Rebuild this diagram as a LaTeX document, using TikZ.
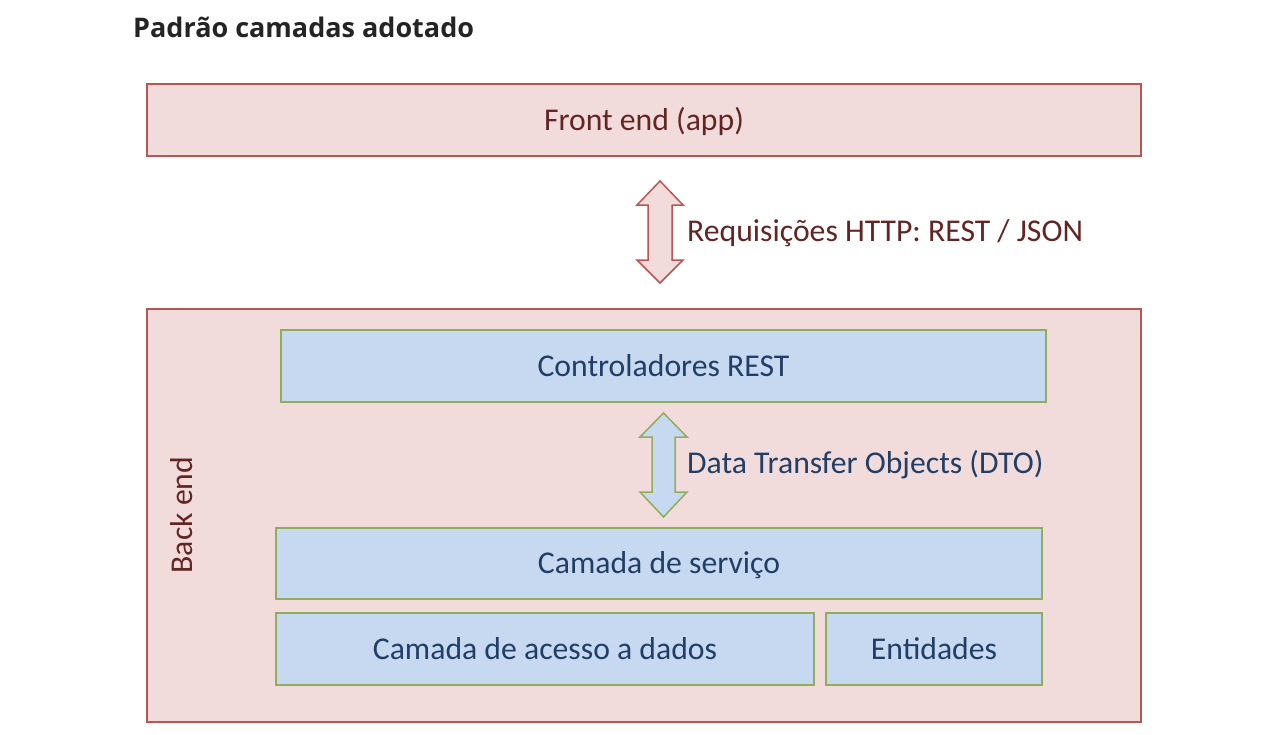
\documentclass[tikz,border=0pt]{standalone}
\usepackage{fontspec}
\setmainfont{Carlito}
\newfontfamily\titlefont{Open Sans}
\definecolor{pinkfill}{HTML}{F2DCDB}
\definecolor{pinkline}{HTML}{B95653}
\definecolor{pinktext}{HTML}{632523}
\definecolor{bluefill}{HTML}{C6D9F1}
\definecolor{greenline}{HTML}{8FAE5B}
\definecolor{bluetext}{HTML}{213F66}
\definecolor{titlecol}{HTML}{242424}
\newcommand\myblockarrow[9]{% cx, toptip, topbase, botbase, bottip, shafthalf, headhalf, fill, line
  \draw[line width=1.5pt, line join=miter, fill=#8, draw=#9]
    (#1,#2) -- (#1+#7,#3) -- (#1+#6,#3) -- (#1+#6,#4) -- (#1+#7,#4) -- (#1,#5)
    -- (#1-#7,#4) -- (#1-#6,#4) -- (#1-#6,#3) -- (#1-#7,#3) -- cycle;}
\begin{document}
\begin{tikzpicture}[x=1pt,y=-1pt,
  txt/.style={font=\fontsize{31.7}{36}\selectfont, text height=20.4pt, text depth=0pt},
  pinkbox/.style={draw=pinkline, fill=pinkfill, line width=1.5pt, text=pinktext, txt, inner sep=0pt},
  bluebox/.style={draw=greenline, fill=bluefill, line width=1.5pt, text=bluetext, txt, inner sep=0pt},
  lbl/.style={inner sep=0pt, txt, anchor=west},
  titlestyle/.style={inner sep=0pt, text=titlecol, font=\titlefont\bfseries\fontsize{27}{32}\selectfont}]
\useasboundingbox[fill=white] (0,0) rectangle (1284,734);
\node[titlestyle, anchor=base west] (title) at (133,37) {Padrão camadas adotado};
\node[pinkbox, minimum width=994, minimum height=72] (front) at (644,120) {Front end (app)};
\node[pinkbox, minimum width=994, minimum height=413] (back) at (644,515.5) {};
\node[inner sep=0pt, rotate=90, text=pinktext, txt] (backlbl) at (182,515) {Back end};
\node[bluebox, minimum width=765, minimum height=72] (ctrl) at (663.5,366) {Controladores REST};
\node[bluebox, minimum width=766, minimum height=71] (serv) at (659,563.5) {Camada de serviço};
\node[bluebox, minimum width=538, minimum height=72] (dados) at (545,649) {Camada de acesso a dados};
\node[bluebox, minimum width=216, minimum height=72] (ent) at (934,649) {Entidades};
\myblockarrow{660}{181}{205}{260}{283}{12}{23}{pinkfill}{pinkline}
\myblockarrow{663.5}{413}{437}{492}{517}{11.5}{23.5}{bluefill}{greenline}
\node[lbl, text=pinktext] (req) at (687,231) {Requisições HTTP: REST / JSON};
\node[lbl, text=bluetext] (dto) at (687,463) {Data Transfer Objects (DTO)};
\end{tikzpicture}
\end{document}
